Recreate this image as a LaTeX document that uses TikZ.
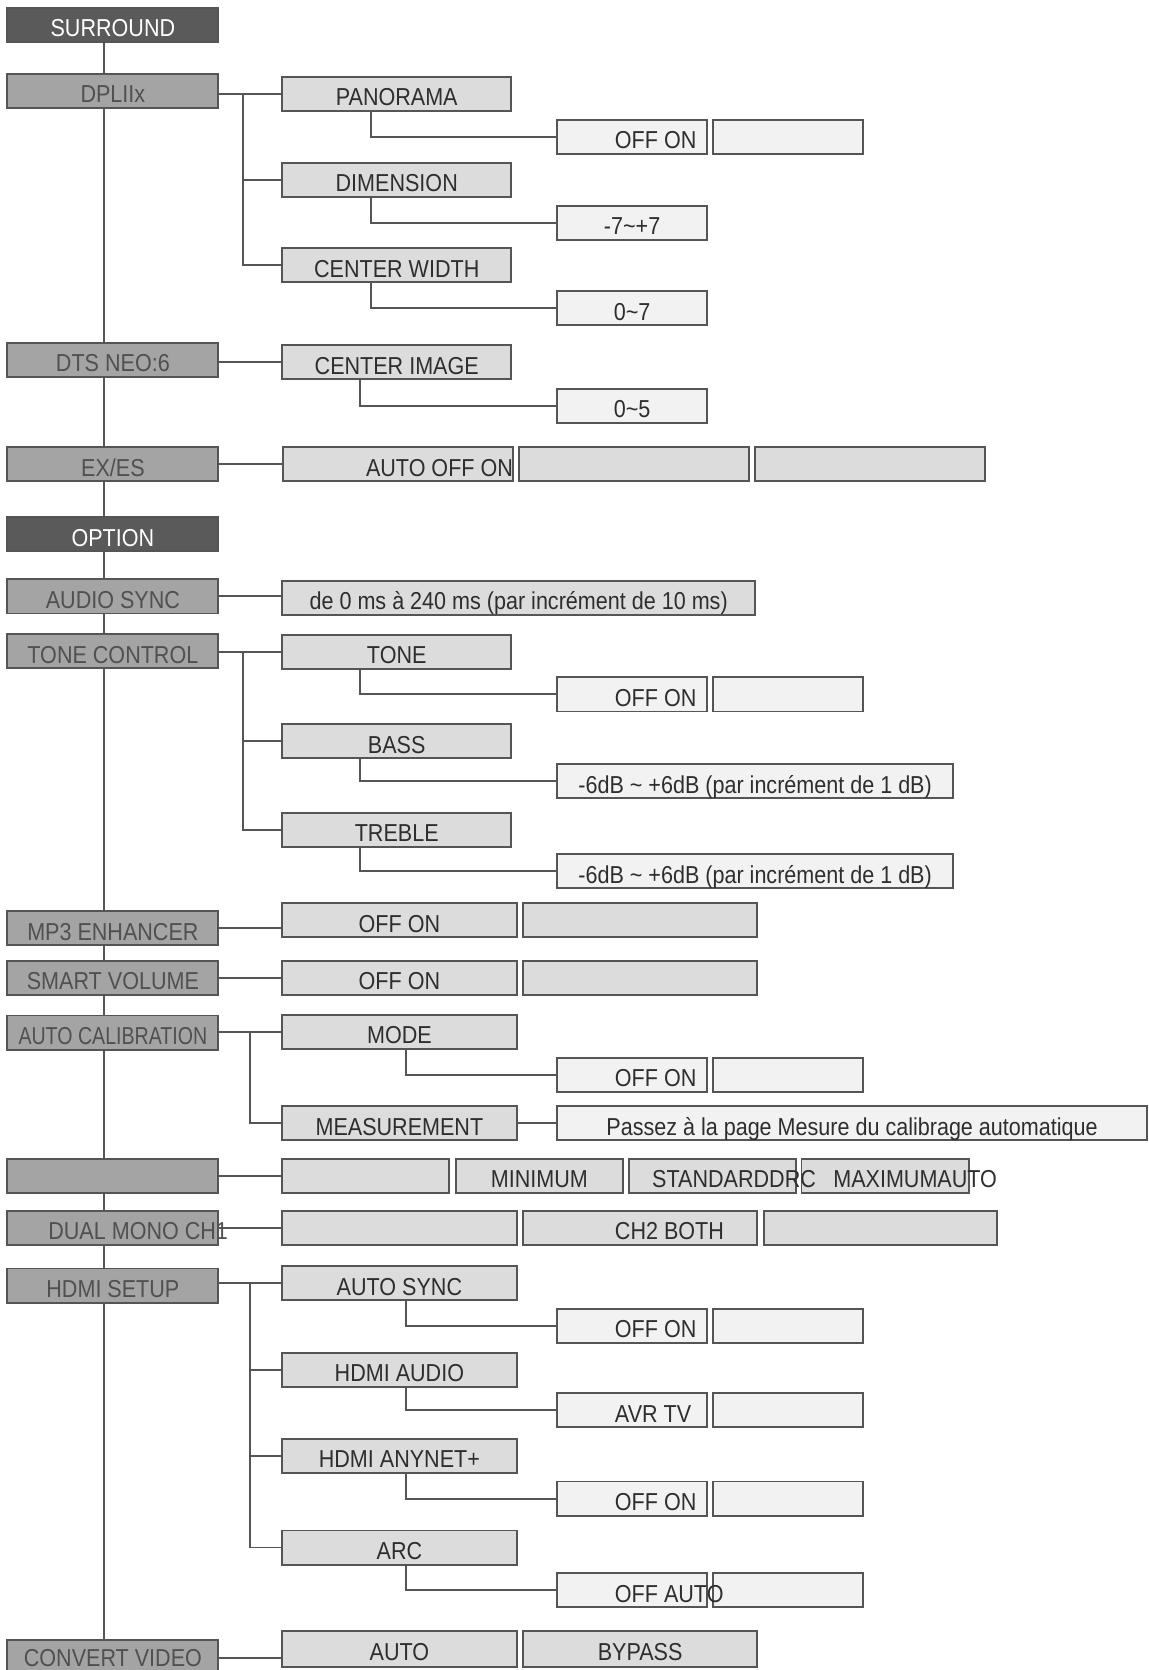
\documentclass[tikz,border=0pt]{standalone}
\usepackage{fontspec}
\setmainfont{Liberation Sans}[FakeStretch=0.88]
\newfontfamily\narrowfont{Liberation Sans}[FakeStretch=0.8]
\usetikzlibrary{backgrounds}
\definecolor{edge}{HTML}{555555}
\definecolor{headgray}{HTML}{5A5A5A}
\definecolor{catgray}{HTML}{A4A4A4}
\definecolor{cattext}{HTML}{505050}
\definecolor{subgray}{HTML}{DCDCDC}
\definecolor{valgray}{HTML}{F2F2F2}
\definecolor{ink}{HTML}{2E2E2E}
\tikzset{
  bx/.style={draw=edge,line width=0.9pt,inner sep=0pt,minimum height=16pt,minimum width=#1*0.5pt},
  head/.style={bx=198,fill=headgray,text=white},
  cat/.style={bx=198,fill=catgray,text=cattext},
  sub/.style={bx=#1,fill=subgray,text=ink}, sub/.default=215,
  val/.style={bx=#1,fill=valgray,text=ink}, val/.default=141,
  txt/.style={inner sep=0pt,text=ink},
  wire/.style={draw=edge,line width=0.9pt}
}
\begin{document}
\begin{tikzpicture}[x=0.5pt,y=-0.5pt,every node/.style={font=\fontsize{11.5}{13}\selectfont,text height=11.2pt,text depth=0pt}]
\useasboundingbox (0,0) rectangle (1078,1568);
\node[head] (sur) at (106,23.5) {SURROUND};
\node[cat] (dpl) at (106,85.5) {DPLIIx};
\node[cat] (dts) at (106,338) {DTS NEO:6};
\node[cat] (exes) at (106,436) {EX/ES};
\node[head] (opt) at (106,501.5) {OPTION};
\node[cat] (asy) at (106,560) {AUDIO SYNC};
\node[cat] (tctl) at (106,611.5) {TONE CONTROL};
\node[cat] (mp3) at (106,871.5) {MP3 ENHANCER};
\node[cat] (svol) at (106,918) {SMART VOLUME};
\node[cat] (acal) at (106,969.5) {\narrowfont AUTO CALIBRATION};
\node[cat] (drc) at (106,1104) {};
\node[cat] (dmono) at (106,1153) {};
\node[cat] (hdmi) at (106,1207) {HDMI SETUP};
\node[cat,minimum height=17pt,text height=7.6pt] (cvid) at (106,1557) {CONVERT VIDEO};

\node[sub] (pano) at (372.5,88) {PANORAMA};
\node[sub] (dimn) at (372.5,169) {DIMENSION};
\node[sub] (cwid) at (372.5,249) {CENTER WIDTH};
\node[sub] (cimg) at (372.5,340) {CENTER IMAGE};
\node[val] (panoa) at (593.5,128.5) {};
\node[val] (panob) at (740,128.5) {};
\node[val] (dimv) at (593.5,209) {-7\textasciitilde+7};
\node[val] (cwv) at (593.5,289.5) {0\textasciitilde7};
\node[val] (civ) at (593.5,381) {0\textasciitilde5};
\node[sub=216] (exa) at (373.5,436) {};
\node[sub=216] (exb) at (595.5,436) {};
\node[sub=216] (exc) at (817,436) {};

\node[sub=444] (asyv) at (487,561.5) {de 0 ms à 240 ms (par incrément de 10 ms)};
\node[sub] (tone) at (372.5,612) {TONE};
\node[sub] (bass) at (372.5,696) {BASS};
\node[sub] (treb) at (372.5,779) {TREBLE};
\node[val] (tonea) at (593.5,652) {};
\node[val] (toneb) at (740,652) {};
\node[val=372] (bassv) at (709,733.5) {-6dB \textasciitilde{} +6dB (par incrément de 1 dB)};
\node[val=372] (trebv) at (709,818) {-6dB \textasciitilde{} +6dB (par incrément de 1 dB)};
\node[sub=220] (mp3a) at (375,864) {OFF ON};
\node[sub=220] (mp3b) at (601,864) {};
\node[sub=220] (svola) at (375,918) {OFF ON};
\node[sub=220] (svolb) at (601,918) {};
\node[sub=220] (mode) at (375,969) {MODE};
\node[sub=220] (meas) at (375,1054.5) {MEASUREMENT};
\node[val] (modea) at (593.5,1009) {};
\node[val] (modeb) at (740,1009) {};
\node[val=554] (measv) at (800,1054.5) {Passez à la page Mesure du calibrage automatique};
\node[sub=157] (drca) at (343.5,1104) {};
\node[sub=157] (drcb) at (506.5,1104) {MINIMUM};
\node[sub=157] (drcc) at (669,1104) {};
\node[sub=157] (drcd) at (831,1104) {};
\node[sub=220] (dma) at (375,1153) {};
\node[sub=220] (dmb) at (601,1153) {};
\node[sub=219] (dmc) at (826.5,1153) {};
\node[sub=220] (hsync) at (375,1205) {AUTO SYNC};
\node[sub=220] (haud) at (375,1286) {HDMI AUDIO};
\node[sub=220] (hany) at (375,1367) {HDMI ANYNET+};
\node[sub=220] (harc) at (375,1453) {ARC};
\node[val] (hsynca) at (593.5,1245) {};
\node[val] (hsyncb) at (740,1245) {};
\node[val] (hauda) at (593.5,1324) {};
\node[val] (haudb) at (740,1324) {};
\node[val] (hanya) at (593.5,1407) {};
\node[val] (hanyb) at (740,1407) {};
\node[val] (harca) at (593.5,1493) {};
\node[val] (harcb) at (740,1493) {};
\node[sub=220,minimum height=17pt] (cva) at (375,1548) {AUTO};
\node[sub=220,minimum height=17pt] (cvb) at (601,1548) {BYPASS};

\node[txt,anchor=east] (ext) at (482,436) {AUTO OFF ON};
\node[txt,anchor=west] (panot) at (577,128.5) {OFF ON};
\node[txt,anchor=west] (tonet) at (577,652) {OFF ON};
\node[txt,anchor=west] (modet) at (577,1009) {OFF ON};
\node[txt,anchor=west] (drct) at (612,1104) {STANDARDDRC};
\node[txt,anchor=west] (drcu) at (782,1104) {MAXIMUMAUTO};
\node[txt,anchor=west,text=cattext] (dmt) at (45,1153) {DUAL MONO CH1};
\node[txt,anchor=west] (dmu) at (577,1153) {CH2 BOTH};
\node[txt,anchor=west] (hsynct) at (577,1245) {OFF ON};
\node[txt,anchor=west] (haudt) at (577,1324) {AVR TV};
\node[txt,anchor=west] (hanyt) at (577,1407) {OFF ON};
\node[txt,anchor=west] (harct) at (577,1493) {OFF AUTO};

\coordinate (tk) at (98,0);
\coordinate (ka) at (228,0);
\coordinate (kb) at (235,0);
\coordinate (ea) at (348,0);
\coordinate (eb) at (338,0);
\coordinate (ec) at (381,0);
\begin{scope}[on background layer]
\fill[white] (0,0) rectangle (1078,1568);
\draw[wire] (tk |- sur.south) -- (tk |- cvid.north);
\draw[wire] (dpl.east |- pano.west) -- (pano.west);
\draw[wire] (ka |- pano.west) |- (cwid.west);
\draw[wire] (ka |- dimn.west) -- (dimn.west);
\draw[wire] (ea |- pano.south) |- (panoa.west);
\draw[wire] (ea |- dimn.south) |- (dimv.west);
\draw[wire] (ea |- cwid.south) |- (cwv.west);
\draw[wire] (dts.east |- cimg.west) -- (cimg.west);
\draw[wire] (eb |- cimg.south) |- (civ.west);
\draw[wire] (exes.east) -- (exa.west);
\draw[wire] (asy.east) -- (asy.east -| asyv.west);
\draw[wire] (tctl.east |- tone.west) -- (tone.west);
\draw[wire] (ka |- tone.west) |- (treb.west);
\draw[wire] (ka |- bass.west) -- (bass.west);
\draw[wire] (eb |- tone.south) |- (tonea.west);
\draw[wire] (eb |- bass.south) |- (bassv.west);
\draw[wire] (eb |- treb.south) |- (trebv.west);
\draw[wire] (mp3.east) -- (mp3.east -| mp3a.west);
\draw[wire] (svol.east) -- (svola.west);
\draw[wire] (acal.east |- mode.west) -- (mode.west);
\draw[wire] (kb |- mode.west) |- (meas.west);
\draw[wire] (ec |- mode.south) |- (modea.west);
\draw[wire] (meas.east) -- (measv.west);
\draw[wire] (drc.east) -- (drca.west);
\draw[wire] (dmono.east) -- (dma.west);
\draw[wire] (hdmi.east |- hsync.west) -- (hsync.west);
\draw[wire] (kb |- hsync.west) |- (harc.west);
\draw[wire] (kb |- haud.west) -- (haud.west);
\draw[wire] (kb |- hany.west) -- (hany.west);
\draw[wire] (ec |- hsync.south) |- (hsynca.west);
\draw[wire] (ec |- haud.south) |- (hauda.west);
\draw[wire] (ec |- hany.south) |- (hanya.west);
\draw[wire] (ec |- harc.south) |- (harca.west);
\draw[wire] (cvid.east) -- (cvid.east -| cva.west);
\end{scope}
\end{tikzpicture}
\end{document}
